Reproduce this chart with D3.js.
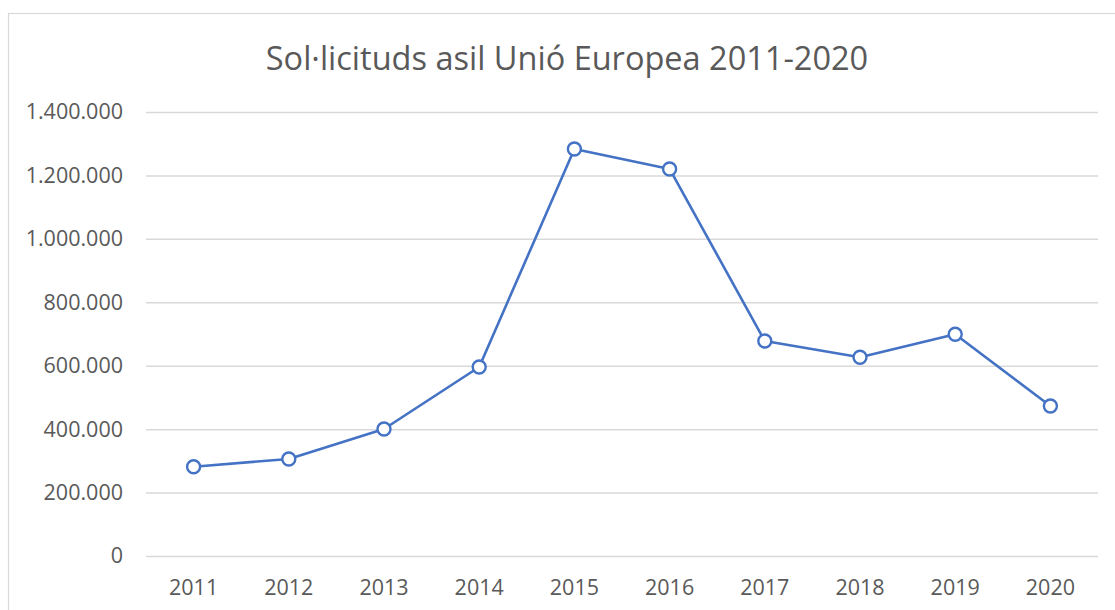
<!DOCTYPE html>
<html>
<head>
<meta charset="utf-8">
<script src="https://cdn.jsdelivr.net/npm/d3@7"></script>
<style>
  html, body { margin: 0; padding: 0; background: #fff; }
  svg { display: block; }
  text { font-family: "Open Sans", "Noto Sans", sans-serif; fill: #595959; }
</style>
</head>
<body>
<svg id="chart" width="1115" height="610"></svg>
<script>
const title = "Sol·licituds asil Unió Europea 2011-2020";
const years = ["2011", "2012", "2013", "2014", "2015", "2016", "2017", "2018", "2019", "2020"];
const applications = [281600, 305900, 400500, 595900, 1283300, 1220300, 677900, 626500, 699000, 473000];
const yTicks = [0, 200000, 400000, 600000, 800000, 1000000, 1200000, 1400000];

const svg = d3.select("#chart");
const plot = { left: 146, right: 1098, top: 112, bottom: 556 };

// chart frame
svg.append("rect")
  .attr("x", 8.5).attr("y", 13.5)
  .attr("width", 1130).attr("height", 620)
  .attr("fill", "#fff")
  .attr("stroke", "#d9d9d9").attr("stroke-width", 1.2);

const x = d3.scaleBand().domain(years).range([plot.left, plot.right]).paddingInner(0).paddingOuter(0);
const y = d3.scaleLinear().domain([0, 1400000]).range([plot.bottom, plot.top]);

const loc = d3.formatLocale({ decimal: ",", thousands: ".", grouping: [3], currency: ["", "€"] });
const fmt = loc.format(",d");

// gridlines + y labels
const yAxis = d3.axisLeft(y).tickValues(yTicks).tickFormat(fmt)
  .tickSize(-(plot.right - plot.left)).tickPadding(23);
const gy = svg.append("g").attr("transform", `translate(${plot.left},0)`).call(yAxis);
gy.select(".domain").remove();
gy.selectAll(".tick line").attr("stroke", "#d9d9d9").attr("stroke-width", 1.5);
gy.selectAll(".tick text").attr("font-size", 21.5).attr("fill", "#595959")
  .style("font-family", "'Open Sans', sans-serif");

// x labels
const xAxis = d3.axisBottom(x).tickSize(0).tickPadding(24);
const gx = svg.append("g").attr("transform", `translate(0,${plot.bottom})`).call(xAxis);
gx.select(".domain").remove();
gx.selectAll(".tick text").attr("font-size", 21.5).attr("fill", "#595959")
  .style("font-family", "'Open Sans', sans-serif");

// line
const line = d3.line()
  .x((d, i) => x(years[i]) + x.bandwidth() / 2)
  .y(d => y(d));
svg.append("path")
  .datum(applications)
  .attr("d", line)
  .attr("fill", "none")
  .attr("stroke", "#4472C4")
  .attr("stroke-width", 2.6)
  .attr("stroke-linejoin", "round");

svg.selectAll("circle.pt")
  .data(applications)
  .join("circle")
  .attr("class", "pt")
  .attr("cx", (d, i) => x(years[i]) + x.bandwidth() / 2)
  .attr("cy", d => y(d))
  .attr("r", 6.5)
  .attr("fill", "#fff")
  .attr("stroke", "#4472C4")
  .attr("stroke-width", 2.4);

// title
svg.append("text")
  .attr("x", 567).attr("y", 70)
  .attr("text-anchor", "middle")
  .attr("font-size", 32.5)
  .attr("fill", "#595959")
  .text(title);
</script>
</body>
</html>
